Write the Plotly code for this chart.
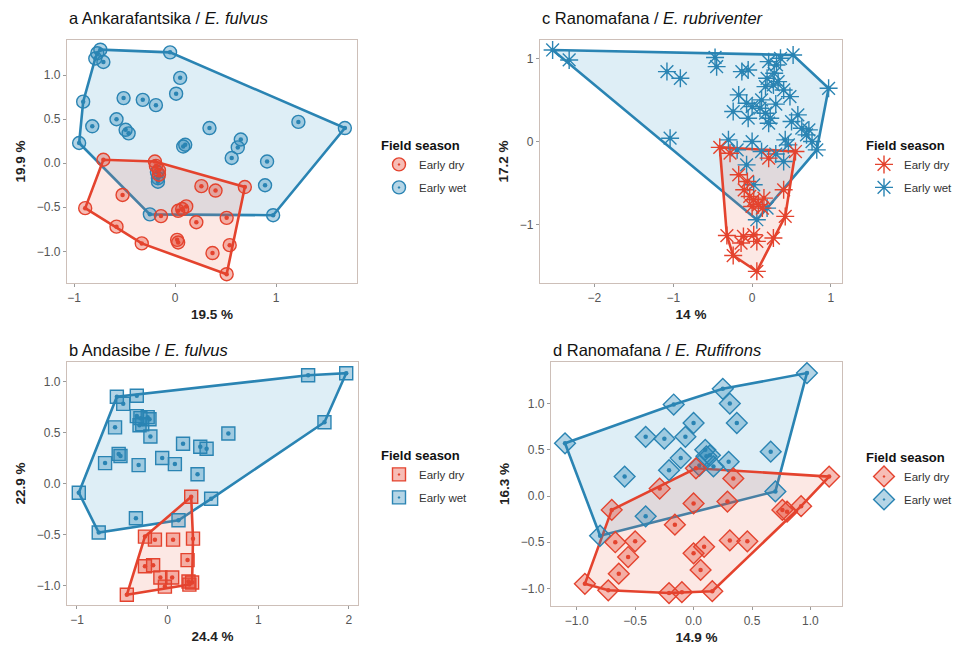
import plotly.graph_objects as go

# ---------------- data ----------------
seasons = ["Early dry", "Early wet"]
titles = ["a Ankarafantsika / <i>E. fulvus</i>", "b Andasibe / <i>E. fulvus</i>",
          "c Ranomafana / <i>E. rubriventer</i>", "d Ranomafana / <i>E. Rufifrons</i>"]
x_titles = ["19.5 %", "24.4 %", "14 %", "14.9 %"]
y_titles = ["19.9 %", "22.9 %", "17.2 %", "16.3 %"]

# a Ankarafantsika
ax_wet = [-0.74, -0.79, -0.71, -0.77, -0.05, -0.91, -0.95, -0.82, -0.51, -0.32, -0.19, 0.05, 0.01, -0.58, -0.49,
          -0.46, 0.08, 0.10, 0.34, 0.65, 0.62, 0.56, -0.18, -0.17, -0.17, -0.25, 1.22, 1.68, 0.91, 0.89, 0.97]
ay_wet = [1.29, 1.19, 1.15, 1.25, 1.26, 0.70, 0.23, 0.42, 0.74, 0.72, 0.66, 0.97, 0.79, 0.50, 0.38,
          0.34, 0.19, 0.21, 0.40, 0.27, 0.18, 0.06, -0.10, -0.17, -0.21, -0.58, 0.47, 0.40, 0.02, -0.25, -0.59]
ax_dry = [-0.71, -0.20, -0.19, -0.16, -0.16, 0.26, 0.40, 0.69, 0.11, 0.03, 0.07, -0.14, 0.21, 0.51, 0.02,
          0.03, -0.33, 0.37, 0.54, 0.51, -0.52, -0.89, -0.58]
ay_dry = [0.04, 0.02, -0.03, -0.08, -0.13, -0.26, -0.31, -0.27, -0.49, -0.54, -0.52, -0.60, -0.67, -0.62, -0.87,
          -0.90, -0.91, -1.02, -0.93, -1.26, -0.36, -0.51, -0.72]

# b Andasibe
bx_wet = [-0.56, -0.34, -0.49, -0.34, -0.30, -0.22, -0.28, -0.20, -0.31, -0.58, -0.19, 0.67, 0.17, 0.36, 0.43,
          -0.54, -0.52, -0.69, -0.32, -0.06, 0.08, 0.33, -0.98, 0.48, -0.35, 0.12, -0.76, 1.55, 1.97, 1.73]
by_wet = [0.85, 0.86, 0.78, 0.66, 0.64, 0.65, 0.58, 0.63, 0.57, 0.55, 0.46, 0.49, 0.39, 0.36, 0.34,
          0.29, 0.27, 0.20, 0.18, 0.25, 0.19, 0.09, -0.09, -0.15, -0.34, -0.36, -0.48, 1.06, 1.08, 0.60]
bx_dry = [0.26, -0.25, -0.14, 0.06, 0.28, 0.22, -0.25, -0.16, -0.08, 0.05, -0.03, 0.23, 0.27, 0.24, -0.45]
by_dry = [-0.13, -0.52, -0.55, -0.55, -0.54, -0.75, -0.81, -0.80, -0.92, -0.92, -1.01, -0.96, -0.97, -0.99, -1.09]

# c Ranomafana / E. rubriventer
cx_wet = [-2.53, -2.32, -1.08, -0.91, -1.04, -0.47, -0.45, -0.13, -0.05, 0.21, 0.31, 0.36, 0.52, 0.19, 0.27,
          0.17, 0.97, 0.48, -0.17, -0.07, 0.00, -0.24, 0.10, 0.17, 0.23, 0.21, -0.05, 0.50, 0.63, 0.69,
          0.76, 0.82, 0.42, 0.46, 0.00, -0.19, 0.40, -0.07, 0.02, 0.06, 0.19,
          0.28, 0.33, 0.40, 0.12, 0.30, 0.58, 0.72, 0.12, 0.30, -0.30]
cy_wet = [1.10, 0.98, 0.84, 0.76, 0.04, 1.01, 0.90, 0.84, 0.86, 0.96, 0.92, 1.00, 1.04, 0.76, 0.68,
          0.66, 0.64, 0.54, 0.56, 0.46, 0.42, 0.36, 0.40, 0.34, 0.28, 0.22, 0.28, 0.24, 0.16, 0.08,
          0.00, -0.10, 0.02, -0.04, 0.00, -0.10, -0.24, -0.28, -0.52, -0.94, -0.80,
          0.82, 0.72, 0.62, 0.50, 0.45, 0.32, 0.14, -0.12, -0.15, 0.02]
cx_dry = [-0.41, -0.28, 0.21, 0.55, -0.17, -0.10, -0.03, 0.02, 0.08, 0.13, 0.00, 0.40, 0.42, -0.32, -0.11,
          0.02, 0.06, 0.27, -0.24, 0.06, -0.06, 0.15, -0.14]
cy_dry = [-0.07, -0.14, -0.20, -0.12, -0.40, -0.58, -0.66, -0.70, -0.76, -0.80, -0.78, -0.58, -0.90, -1.13, -1.14,
          -1.12, -1.20, -1.16, -1.37, -1.56, -0.48, -0.68, -1.22]

# d Ranomafana / E. rufifrons
dx_wet = [-1.10, -0.17, 0.25, 0.97, 0.31, 0.37, 0.00, -0.07, -0.41, -0.25, 0.66, 0.10, 0.14, 0.11, -0.11,
          0.30, -0.21, 0.05, 0.17, -0.59, 0.70, -0.41, -0.80]
dy_wet = [0.57, 0.99, 1.16, 1.33, 1.00, 0.79, 0.79, 0.64, 0.64, 0.62, 0.48, 0.50, 0.44, 0.43, 0.41,
          0.37, 0.28, 0.33, 0.32, 0.21, 0.05, -0.22, -0.43]
dx_dry = [-0.70, -0.29, 0.02, 0.34, 0.00, 0.29, 0.76, 0.80, 0.92, 1.16, -0.16, -0.67, -0.50, 0.31, 0.46,
          0.00, 0.09, -0.56, 0.06, -0.64, -0.93, -0.73, -0.21, -0.10, 0.16]
dy_dry = [-0.15, 0.08, 0.30, 0.19, -0.08, -0.06, -0.15, -0.17, -0.11, 0.21, -0.31, -0.50, -0.49, -0.48, -0.49,
          -0.62, -0.55, -0.66, -0.80, -0.84, -0.95, -1.02, -1.05, -1.04, -1.03]

panels = [
    dict(wet=(ax_wet, ay_wet), dry=(ax_dry, ay_dry), symbol="circle", size=13,
         xr=[-1.07, 1.80], yr=[-1.36, 1.40], xt=[-1, 0, 1], yt=[-1.0, -0.5, 0.0, 0.5, 1.0], fmt_x="d", fmt_y=".1f"),
    dict(wet=(bx_wet, by_wet), dry=(bx_dry, by_dry), symbol="square", size=13,
         xr=[-1.11, 2.10], yr=[-1.19, 1.19], xt=[-1, 0, 1, 2], yt=[-1.0, -0.5, 0.0, 0.5, 1.0], fmt_x="d", fmt_y=".1f"),
    dict(wet=(cx_wet, cy_wet), dry=(cx_dry, cy_dry), symbol="asterisk", size=15,
         xr=[-2.69, 1.14], yr=[-1.70, 1.22], xt=[-2, -1, 0, 1], yt=[-1, 0, 1], fmt_x="d", fmt_y="d"),
    dict(wet=(dx_wet, dy_wet), dry=(dx_dry, dy_dry), symbol="diamond", size=16,
         xr=[-1.22, 1.27], yr=[-1.19, 1.45], xt=[-1.0, -0.5, 0.0, 0.5, 1.0], yt=[-1.0, -0.5, 0.0, 0.5, 1.0],
         fmt_x=".1f", fmt_y=".1f"),
]

# ---------------- styling ----------------
W, H = 963, 645
RED, BLUE = "#E4432E", "#2A84B3"
RED_FILL, BLUE_FILL = "rgba(236,110,90,0.16)", "rgba(70,160,205,0.18)"
RED_MK, BLUE_MK = "rgba(228,67,46,0.35)", "rgba(42,135,182,0.35)"
FONT = "Liberation Sans, Arial, sans-serif"

# pixel boxes (left, right, top, bottom) for a, b, c, d
boxes = [(67, 357, 40, 283), (67, 358, 362, 605), (540, 842, 40, 283), (551, 842, 362, 606)]
title_pos = [(67, 18), (67, 350), (540, 18), (551, 350)]
legend_pos = [(379, 133), (379, 443), (864, 133), (864, 445)]


def convex_hull(xs, ys):
    pts = sorted(set(zip(xs, ys)))

    def cross(o, a, b):
        return (a[0] - o[0]) * (b[1] - o[1]) - (a[1] - o[1]) * (b[0] - o[0])

    lower, upper = [], []
    for p in pts:
        while len(lower) >= 2 and cross(lower[-2], lower[-1], p) <= 0:
            lower.pop()
        lower.append(p)
    for p in reversed(pts):
        while len(upper) >= 2 and cross(upper[-2], upper[-1], p) <= 0:
            upper.pop()
        upper.append(p)
    h = lower[:-1] + upper[:-1]
    h.append(h[0])
    return [p[0] for p in h], [p[1] for p in h]


fig = go.Figure()
layout = dict(width=W, height=H, margin=dict(l=0, r=0, t=0, b=0), paper_bgcolor="white",
              plot_bgcolor="white", template="none", font=dict(family=FONT, color="#333"),
              annotations=[])

for i, p in enumerate(panels):
    n = i + 1
    xa = "x" if n == 1 else f"x{n}"
    ya = "y" if n == 1 else f"y{n}"
    lg = "legend" if n == 1 else f"legend{n}"
    # hulls
    for key, col, fcol in (("wet", BLUE, BLUE_FILL), ("dry", RED, RED_FILL)):
        hx, hy = convex_hull(*p[key])
        fig.add_trace(go.Scatter(x=hx, y=hy, mode="lines", fill="toself", fillcolor=fcol,
                                 line=dict(color=col, width=2.6), showlegend=False,
                                 xaxis=xa, yaxis=ya, hoverinfo="skip"))
    # points
    for key, col, mk, name, rank in (("wet", BLUE, BLUE_MK, "Early wet", 2), ("dry", RED, RED_MK, "Early dry", 1)):
        xs, ys = p[key]
        if p["symbol"] == "asterisk":
            marker = dict(symbol="asterisk-open", size=p["size"], color=col, line=dict(color=col, width=1.4))
        else:
            marker = dict(symbol=p["symbol"] + "-dot", size=p["size"], color=mk,
                          line=dict(color=col, width=1.4))
        fig.add_trace(go.Scatter(x=xs, y=ys, mode="markers", marker=marker, name=name,
                                 legend=lg, legendrank=rank, legendgroup=f"{n}{key}",
                                 xaxis=xa, yaxis=ya))
        fig.add_trace(go.Scatter(x=xs, y=ys, mode="markers", showlegend=False,
                                 marker=dict(symbol="circle", size=4.5, color=col),
                                 xaxis=xa, yaxis=ya, hoverinfo="skip"))

    l, r, t, b = boxes[i]
    axis_common = dict(showgrid=False, zeroline=False, showline=True, mirror=True,
                       linecolor="#cdbfb8", linewidth=1.3, ticks="outside", ticklen=3,
                       tickcolor="#9a9a9a", tickfont=dict(size=12, color="#555"),
                       title_font=dict(size=13.5, color="#222", family=FONT))
    layout["xaxis" if n == 1 else f"xaxis{n}"] = dict(
        axis_common, domain=[l / W, r / W], range=p["xr"], tickvals=p["xt"], tickformat=p["fmt_x"],
        anchor=ya, title=dict(text=f"<b>{x_titles[i]}</b>", standoff=6))
    layout["yaxis" if n == 1 else f"yaxis{n}"] = dict(
        axis_common, domain=[1 - b / H, 1 - t / H], range=p["yr"], tickvals=p["yt"], tickformat=p["fmt_y"],
        anchor=xa, title=dict(text=f"<b>{y_titles[i]}</b>", standoff=8))
    tx, ty = title_pos[i]
    layout["annotations"].append(dict(text=titles[i], x=tx / W, y=1 - ty / H, xref="paper", yref="paper",
                                      xanchor="left", yanchor="middle", showarrow=False,
                                      font=dict(size=16.5, color="#111", family=FONT)))
    lx, ly = legend_pos[i]
    layout[lg] = dict(x=lx / W, y=1 - ly / H, xanchor="left", yanchor="top", bgcolor="rgba(0,0,0,0)",
                      title=dict(text="<b>Field season</b>", font=dict(size=13, color="#111")),
                      font=dict(size=11.5, color="#333"), itemsizing="trace",
                      traceorder="grouped", tracegroupgap=4)

fig.update_layout(**layout)
fig.write_html("out.html")
